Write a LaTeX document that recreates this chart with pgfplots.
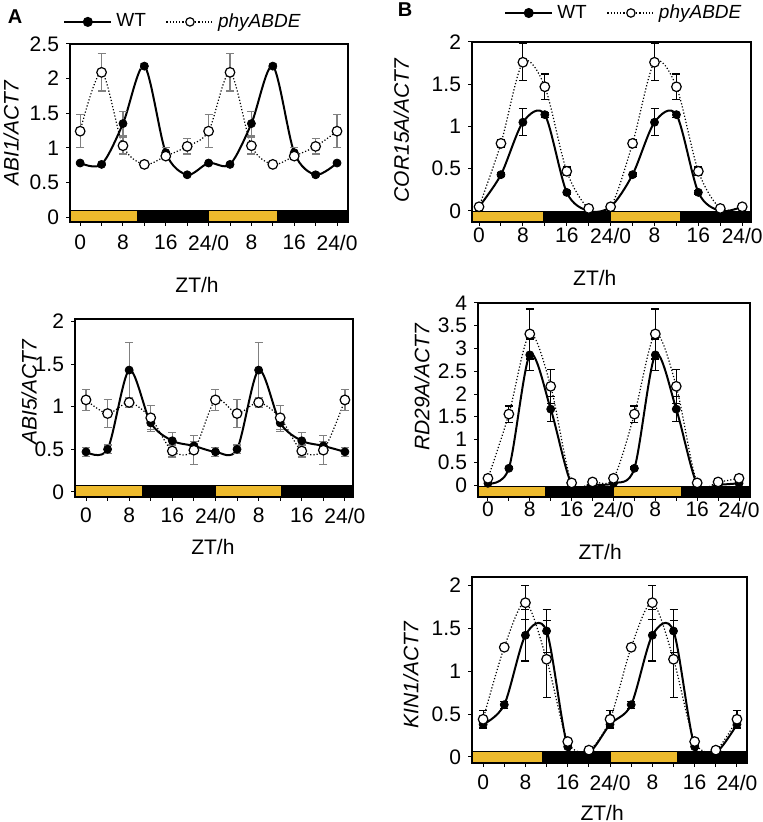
\documentclass[border=0pt]{standalone}
\usepackage{fontspec}
\setmainfont{Liberation Sans}
\usepackage{pgfplots}
\usepackage{pgfplotstable}
\pgfplotsset{compat=1.18}
\definecolor{lightbar}{RGB}{237,186,45}

% x = ZT (h), two days; wte/phye = error
\pgfplotstableread{
x  wt   wte  phy  phye
0  0.78 0.02 1.24 0.24
4  0.76 0.02 2.09 0.27
8  1.35 0.18 1.03 0.12
12 2.18 0.03 0.76 0.03
16 0.93 0.07 0.88 0.05
20 0.61 0.03 1.02 0.11
24 0.78 0.02 1.24 0.24
28 0.76 0.02 2.09 0.27
32 1.35 0.18 1.03 0.12
36 2.18 0.03 0.76 0.03
40 0.93 0.07 0.88 0.05
44 0.61 0.03 1.02 0.11
48 0.78 0.02 1.24 0.24
}\abione

\pgfplotstableread{
x  wt   wte  phy  phye
0  0.47 0.05 1.08 0.12
4  0.50 0.05 0.92 0.16
8  1.43 0.32 1.05 0.06
12 0.81 0.10 0.87 0.14
16 0.60 0.10 0.48 0.07
20 0.54 0.05 0.49 0.17
24 0.47 0.05 1.08 0.12
28 0.50 0.05 0.92 0.16
32 1.43 0.32 1.05 0.06
36 0.81 0.10 0.87 0.14
40 0.60 0.10 0.48 0.07
44 0.54 0.05 0.49 0.17
48 0.47 0.05 1.08 0.12
}\abifive

\pgfplotstableread{
x  wt   wte  phy  phye
0  0.05 0.01 0.05 0.01
4  0.43 0.02 0.80 0.05
8  1.05 0.16 1.76 0.22
12 1.14 0.03 1.47 0.15
16 0.22 0.02 0.47 0.05
20 0.00 0.00 0.03 0.01
24 0.05 0.01 0.05 0.01
28 0.43 0.02 0.80 0.05
32 1.05 0.16 1.76 0.22
36 1.14 0.03 1.47 0.15
40 0.22 0.02 0.47 0.05
44 0.00 0.00 0.03 0.01
48 0.05 0.01 0.05 0.01
}\corfifteen

\pgfplotstableread{
x  wt   wte  phy  phye
0  0.04 0.01 0.15 0.02
4  0.37 0.03 1.56 0.18
8  2.86 0.35 3.32 0.55
12 1.67 0.27 2.17 0.37
16 0.02 0.01 0.05 0.01
20 0.01 0.00 0.07 0.01
24 0.04 0.01 0.15 0.02
28 0.37 0.03 1.56 0.18
32 2.86 0.35 3.32 0.55
36 1.67 0.27 2.17 0.37
40 0.02 0.01 0.05 0.01
44 0.01 0.00 0.07 0.01
48 0.04 0.01 0.15 0.02
}\rdtwonine

\pgfplotstableread{
x  wt   wte  phy  phye
0  0.38 0.05 0.44 0.10
4  0.61 0.04 1.28 0.03
8  1.42 0.30 1.80 0.20
12 1.47 0.25 1.14 0.45
16 0.12 0.02 0.18 0.03
20 0.05 0.01 0.08 0.01
24 0.38 0.05 0.44 0.10
28 0.61 0.04 1.28 0.03
32 1.42 0.30 1.80 0.20
36 1.47 0.25 1.14 0.45
40 0.12 0.02 0.18 0.03
44 0.05 0.01 0.08 0.01
48 0.38 0.05 0.44 0.10
}\kinone

\pgfplotsset{
  zt/.style={
    scale only axis,
    anchor=south west,
    axis line style={line width=0.6pt},
    tick align=outside,
    xtick pos=left, ytick pos=left,
    major tick length=2pt,
    tick style={black, line width=0.5pt},
    xtick={0,4,...,48},
    xticklabels={0,,8,,16,,24/0,,8,,16,,24/0},
    tick label style={font=\fontsize{10.5}{12}\selectfont},
    label style={font=\fontsize{10.5}{12}\selectfont},
    /pgf/number format/assume math mode=true,
    ylabel style={anchor=center},
    xlabel style={anchor=center},
    xlabel={ZT/h},
    legend image code/.code={\draw[mark repeat=2, mark phase=2, ##1] plot coordinates {(0pt,0pt) (11.75pt,0pt) (23.5pt,0pt)};},
    legend style={draw=none, fill=none, legend columns=2, anchor=center,
      font=\fontsize{9.5}{11}\selectfont,
      /tikz/every even column/.append style={column sep=8pt}},
  },
  errs/.style={
    error bars/y dir=both, error bars/y explicit,
    error bars/error bar style={#1, line width=0.6pt, solid},
    error bars/error mark options={#1, rotate=90, mark size=2pt, line width=0.6pt, solid}},
  wtline/.style={black, line width=1pt, smooth, no markers, forget plot, errs=#1},
  phyline/.style={black, line width=0.6pt, densely dotted, smooth, no markers, forget plot, errs=#1},
  wtmarks/.style={only marks, black, mark=*, mark size=2pt, mark options={fill=black}, forget plot},
  phymarks/.style={only marks, mark=*, mark size=2.4pt,
    mark options={solid, draw=black, fill=white, line width=0.6pt}, forget plot},
}

% light/dark bar: #1 xmin, #2 xmax, #3 ylo, #4 yhi, #5 end of light 1, #6 end of light 2
\newcommand{\daybar}[6]{%
  \addplot[fill=lightbar, draw=black, line width=0.5pt, forget plot] coordinates {(#1,#3) (#5,#3) (#5,#4) (#1,#4)} -- cycle;
  \addplot[fill=black, draw=black, line width=0.5pt, forget plot] coordinates {(#5,#3) (24,#3) (24,#4) (#5,#4)} -- cycle;
  \addplot[fill=lightbar, draw=black, line width=0.5pt, forget plot] coordinates {(24,#3) (#6,#3) (#6,#4) (24,#4)} -- cycle;
  \addplot[fill=black, draw=black, line width=0.5pt, forget plot] coordinates {(#6,#3) (#2,#3) (#2,#4) (#6,#4)} -- cycle;
}

% both series of one table: lines with error bars, then the marks on top
\newcommand{\series}[2]{%
  \addplot[wtline=#2] table[x=x, y=wt, y error=wte] {#1};
  \addplot[phyline=#2] table[x=x, y=phy, y error=phye] {#1};
  \addplot[wtmarks] table[x=x, y=wt] {#1};
  \addplot[phymarks] table[x=x, y=phy] {#1};
}

\newcommand{\legendpair}{%
  \addlegendimage{black, line width=1pt, mark=*, mark size=2pt, mark options={fill=black}}
  \addlegendentry{WT}
  \addlegendimage{black, line width=0.6pt, densely dotted, mark=*, mark size=2.1pt, mark options={solid, draw=black, fill=white}}
  \addlegendentry{\textit{phyABDE}}
}

\begin{document}
\begin{tikzpicture}
\path[use as bounding box] (0,0) rectangle (381pt,411pt);

\node[font=\fontsize{10}{12}\selectfont\bfseries] at (7.5pt,402.5pt) {A};
\node[font=\fontsize{10}{12}\selectfont\bfseries] at (202.5pt,406pt) {B};

% A: ABI1
\begin{axis}[zt, at={(35pt,300pt)}, width=139pt, height=89pt,
  xmin=-1.9, xmax=50.05, ymin=-0.072, ymax=2.5, ytick={0,0.5,...,2.5},
  ylabel={\textit{ABI1/ACT7}},
  ylabel style={at={(axis description cs:-0.212,0.5)}},
  xlabel style={at={(axis description cs:0.457,-0.354)}},
  xticklabel style={yshift=-1pt},
  legend style={at={(axis description cs:0.41,1.124)}}]
\daybar{-1.9}{50.05}{-0.072}{0.1}{10.8}{36.8}
\series{\abione}{gray}
\legendpair
\end{axis}

% A: ABI5
\begin{axis}[zt, at={(37.5pt,162.5pt)}, width=139pt, height=89pt,
  xmin=-2.04, xmax=49.5, ymin=-0.06, ymax=2.03, ytick={0,0.5,...,2},
  ylabel={\textit{ABI5/ACT7}},
  ylabel style={at={(axis description cs:-0.165,0.59)}},
  xlabel style={at={(axis description cs:0.496,-0.281)}}]
\daybar{-2.04}{49.5}{-0.06}{0.07}{10.5}{36.3}
\series{\abifive}{gray}
\end{axis}

% B: COR15A
\begin{axis}[zt, at={(236pt,300pt)}, width=139.5pt, height=90pt,
  xmin=-1.28, xmax=49.6, ymin=-0.13, ymax=2, ytick={0,0.5,...,2},
  ylabel={\textit{COR15A/ACT7}},
  ylabel style={at={(axis description cs:-0.253,0.51)}},
  xlabel style={at={(axis description cs:0.44,-0.311)}},
  xticklabel style={yshift=2.5pt},
  legend style={at={(axis description cs:0.548,1.161)}}]
\daybar{-1.28}{49.6}{-0.13}{-0.005}{11.7}{36.7}
\series{\corfifteen}{black}
\legendpair
\end{axis}

% B: RD29A
\begin{axis}[zt, at={(239pt,162.5pt)}, width=136pt, height=97pt,
  xmin=-1.9, xmax=50.1, ymin=-0.26, ymax=4, ytick={0,0.5,...,4},
  ylabel={\textit{RD29A/ACT7}},
  ylabel style={at={(axis description cs:-0.206,0.567)}},
  xlabel style={at={(axis description cs:0.449,-0.284)}},
  xticklabel style={yshift=3pt}]
\daybar{-1.9}{50.1}{-0.26}{-0.04}{11.0}{37.0}
\series{\rdtwonine}{black}
\end{axis}

% B: KIN1
\begin{axis}[zt, at={(236pt,29.5pt)}, width=137.5pt, height=93pt,
  xmin=-2.1, xmax=49.9, ymin=-0.07, ymax=2.1, ytick={0,0.5,...,2},
  ylabel={\textit{KIN1/ACT7}},
  ylabel style={at={(axis description cs:-0.222,0.473)}},
  xlabel style={at={(axis description cs:0.473,-0.269)}},
  xticklabel style={yshift=-0.5pt}]
\daybar{-2.1}{49.9}{-0.07}{0.06}{11.2}{36.8}
\series{\kinone}{black}
\end{axis}
\end{tikzpicture}
\end{document}
